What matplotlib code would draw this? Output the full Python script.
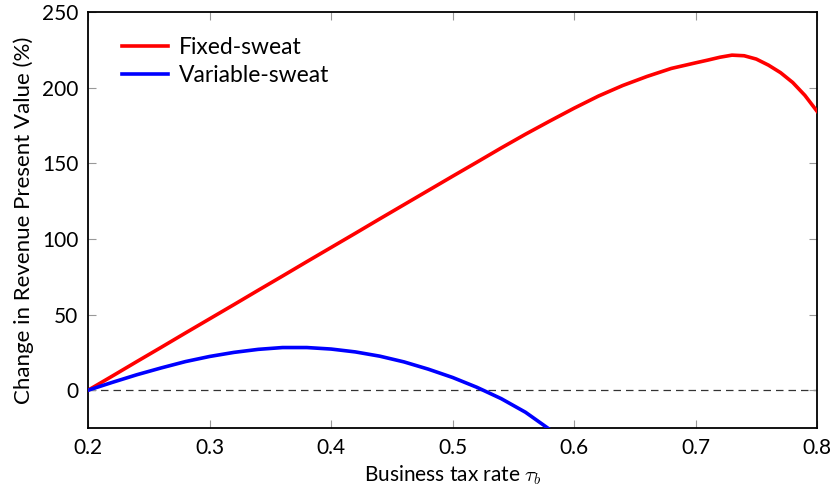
import matplotlib.pyplot as plt

plt.rcParams["font.family"] = ["Lato", "DejaVu Sans"]
plt.rcParams["mathtext.fontset"] = "cm"

# Business tax rate grids and change in revenue present value (%)
tau_fixed = [0.20, 0.22, 0.24, 0.26, 0.28, 0.30, 0.32, 0.34, 0.36, 0.38,
             0.40, 0.42, 0.44, 0.46, 0.48, 0.50, 0.52, 0.54, 0.56, 0.58,
             0.60, 0.62, 0.64, 0.66, 0.68, 0.70, 0.71, 0.72, 0.73, 0.74,
             0.75, 0.76, 0.77, 0.78, 0.79, 0.80]
fixed_sweat = [0.0, 9.4, 18.9, 28.3, 37.8, 47.2, 56.6, 66.1, 75.5, 85.0,
               94.4, 103.8, 113.3, 122.7, 132.1, 141.5, 150.8, 160.2, 169.3, 178.0,
               186.5, 194.5, 201.5, 207.5, 212.8, 216.5, 218.3, 220.2, 221.6, 221.2,
               219.0, 215.0, 210.0, 203.5, 195.0, 184.5]

tau_variable = [0.20, 0.22, 0.24, 0.26, 0.28, 0.30, 0.32, 0.34, 0.36, 0.38,
                0.40, 0.42, 0.44, 0.46, 0.48, 0.50, 0.52, 0.54, 0.56, 0.58, 0.60]
variable_sweat = [0.0, 5.2, 10.2, 14.7, 18.9, 22.3, 25.0, 27.0, 28.2, 28.2,
                  27.2, 25.3, 22.5, 18.7, 13.9, 8.4, 1.9, -5.6, -14.6, -26.0, -38.5]

fig = plt.figure(figsize=(8.32, 4.88), dpi=100)
ax = fig.add_axes([0.106, 0.123, 0.876, 0.852])

ax.axhline(0, color="#333333", linewidth=0.9, linestyle=(0, (6, 4)), zorder=1)
ax.plot(tau_fixed, fixed_sweat, color="#ff0000", linewidth=2.6,
        label="Fixed-sweat", zorder=3, solid_joinstyle="round")
ax.plot(tau_variable, variable_sweat, color="#0000ff", linewidth=2.6,
        label="Variable-sweat", zorder=3, solid_joinstyle="round")

ax.set_xlim(0.2, 0.8)
ax.set_ylim(-25, 250)
ax.set_xticks([0.2, 0.3, 0.4, 0.5, 0.6, 0.7, 0.8])
ax.set_yticks([0, 50, 100, 150, 200, 250])
ax.tick_params(direction="in", length=6, width=0.8, color="#999999",
               top=True, right=True, labelsize=15, pad=7)

for spine in ax.spines.values():
    spine.set_linewidth(1.3)
    spine.set_color("black")

ax.set_xlabel(r"Business tax rate $\tau_b$", fontsize=15, labelpad=4)
ax.set_ylabel("Change in Revenue Present Value (%)", fontsize=16, labelpad=6)

ax.legend(loc="upper left", bbox_to_anchor=(0.018, 0.99), frameon=False,
          fontsize=16.5, handlelength=2.0, handletextpad=0.5,
          borderaxespad=0.5, labelspacing=0.3)

fig.savefig("out.png", dpi=100)
